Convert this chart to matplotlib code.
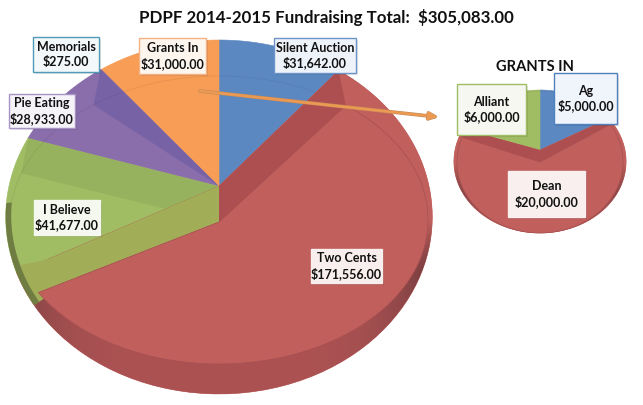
import numpy as np
import matplotlib
matplotlib.use("Agg")
import matplotlib.pyplot as plt
import matplotlib.patheffects as pe
from matplotlib.patches import Polygon, Rectangle

# ---- data ----
main_labels = ["Silent Auction", "Two Cents", "I Believe", "Pie Eating", "Memorials", "Grants In"]
main_values = [31642, 171556, 41677, 28933, 275, 31000]
sub_labels = ["Ag", "Dean", "Alliant"]
sub_values = [5000, 20000, 6000]
title_text = "PDPF 2014-2015 Fundraising Total:  $305,083.00"
sub_title = "GRANTS IN"

BLUE, RED, GREEN, PURPLE, ORANGE = "#5c88c1", "#c05f5b", "#a0bd63", "#8a6dab", "#f79d56"
main_colors = [BLUE, RED, GREEN, PURPLE, PURPLE, ORANGE]
sub_colors = [BLUE, RED, GREEN]
STRIP = {RED: "#ad4e50", GREEN: "#97b25e", PURPLE: "#7762a5", BLUE: "#5c88c1", ORANGE: "#f79d56"}

plt.rcParams["font.family"] = ["Lato", "DejaVu Sans"]
fig = plt.figure(figsize=(6.43, 4.05), dpi=100, facecolor="white")
ax = fig.add_axes([0, 0, 1, 1])
ax.set_axis_off()


class Pie3D:
    def __init__(self, cx, ay, by, R, back, front, rx2, ry2, cy2):
        self.cx, self.ay, self.by, self.rx2, self.ry2, self.cy2 = cx, ay, by, rx2, ry2, cy2
        self.R = R
        self.p = (front - back) / (front + back)
        self.b = back * (1 + self.p)
        self.A, self.B = (cx, ay), (cx, by)

    def p1(self, th, r=1.0):
        # perspective projection of the upper plane, with a small angular correction
        th = np.asarray(th, float)
        t = np.radians(th + 3.0 * np.sin(np.radians(2 * th)))
        u, v = r * np.sin(t), r * np.cos(t)
        w = 1 + self.p * v
        return np.column_stack([self.cx + self.R * u / w, self.ay - self.b * v / w])

    def p2(self, th):
        t = np.radians(th)
        return np.column_stack([self.cx + self.rx2 * np.sin(t), self.cy2 - self.ry2 * np.cos(t)])

    def wedge1(self, a, b):
        return np.vstack([[self.A], self.p1(np.linspace(a, b, 80))])

    def wedge2(self, a, b):
        return np.vstack([[self.B], self.p2(np.linspace(a, b, 120))])

    def quad(self, th):
        return np.vstack([[self.A], self.p1(np.array([th])), self.p2(np.array([th])), [self.B]])

    def tri(self, th):
        return np.vstack([[self.A], self.p1(np.array([th])), self.p2(np.array([th]))])


def poly(pts, color, z, **kw):
    patch = Polygon(pts, closed=True, facecolor=color, edgecolor=kw.pop("edge", color),
                    linewidth=kw.pop("lw", 0.4), zorder=z, **kw)
    ax.add_patch(patch)
    return patch


def wall_image(pie, patch, z, start, span):
    X, Y = np.meshgrid(np.arange(0, 643), np.arange(0, 405))
    f = np.clip((Y - start) / span, 0, 1)
    e = np.clip(np.abs(X - pie.cx) / (pie.R * 1.02), 0, 1) ** 5
    face_c = np.array(matplotlib.colors.to_rgb(RED))
    wall = np.array(matplotlib.colors.to_rgb("#ac5253"))
    dark = np.array(matplotlib.colors.to_rgb("#6e3a3c"))
    img = face_c[None, None] * (1 - f[..., None]) + wall[None, None] * f[..., None]
    img = img * (1 - e[..., None] * f[..., None]) + dark[None, None] * e[..., None] * f[..., None]
    im = ax.imshow(img, extent=(-0.5, 642.5, 404.5, -0.5), aspect="auto", zorder=z, interpolation="nearest")
    im.set_clip_path(patch)


def draw(pie, values, colors, red_index, z=1, start=220, span=45):
    vals = np.asarray(values, float)
    edges = np.concatenate([[0], np.cumsum(vals)]) / vals.sum() * 360
    patches = []
    for i, c in enumerate(colors):
        patches.append(poly(pie.wedge1(edges[i], edges[i + 1]), c, z))
    wall_image(pie, patches[red_index], z + 0.2, start, span)
    a, b = edges[red_index], edges[red_index + 1]
    rim = pie.p2(np.linspace(b, 360 + a, 200))
    for i, c in enumerate(colors):
        if i == red_index or edges[i + 1] >= 359:
            continue
        if c == GREEN:
            s = poly(pie.quad(edges[i + 1]), STRIP[c], z + 0.4, lw=0)
            s.set_clip_path(patches[i])
        elif c == PURPLE:
            s = poly(pie.tri(edges[i + 1]), STRIP[c], z + 0.4, lw=0)
            s.set_clip_path(patches[i])
    ax.plot(rim[:, 0], rim[:, 1], color="#000000", alpha=0.06, lw=0.7, zorder=z + 0.5)
    poly(pie.quad(a), STRIP[RED], z + 0.6, lw=0)
    poly(pie.quad(b), STRIP[RED], z + 0.6, lw=0)
    return edges


def face(pie, a, b, z):
    poly(pie.wedge2(a, b), RED, z, edge="#a85052", lw=0.5)


# ---- main pie ----
big = Pie3D(219, 186, 222, 210, 146, 208, 209, 144, 220)
e = draw(big, main_values, main_colors, 1, start=222, span=50)
a_g = e[2]
poly(big.quad(a_g), "#a2ad58", 2.0, lw=0)
th_w = np.linspace(a_g - 11, a_g + 2, 20)
poly(np.vstack([[big.A], big.p1(th_w), [big.B]]), "#a2ad58", 1.9, lw=0)
th_d = np.linspace(a_g - 11, a_g + 24, 40)
poly(np.vstack([big.p1(th_d), big.p1(th_d[::-1], r=0.975)]), "#6f7c42", 2.1, lw=0)
face(big, e[1], e[2], 2.5)

# ---- small pie ----
small = Pie3D(540, 150, 162, 85, 60, 83, 83, 71, 162)
e2 = draw(small, sub_values, sub_colors, 3, start=165, span=30) if False else draw(small, sub_values, sub_colors, 1, z=3, start=165, span=30)
face(small, e2[1], e2[2], 3.9)

# ---- arrow ----
ax.annotate("", xy=(438, 117), xytext=(200, 91), zorder=6,
            arrowprops=dict(arrowstyle="-|>,head_width=0.22,head_length=0.5", color="#ea9a52",
                            lw=1.8, shrinkA=0, shrinkB=0,
                            path_effects=[pe.withStroke(linewidth=2.6, foreground="#c98a58")]))

# ---- titles ----
ax.text(326, 18, title_text, ha="center", va="center", fontsize=12.2, fontweight="bold",
        color="#101010", zorder=7)
ax.text(535, 67, sub_title, ha="center", va="center", fontsize=10.6, fontweight="bold",
        color="#101010", zorder=5)


# ---- labels ----
def label(name, value, box, fc, ec=None):
    x0, y0, x1, y1 = box
    ax.add_patch(Rectangle((x0 + 1.5, y0 + 1.5), x1 - x0, y1 - y0, fc="#000000", alpha=0.10, lw=0, zorder=7))
    ax.add_patch(Rectangle((x0, y0), x1 - x0, y1 - y0, fc=fc, ec=ec if ec else fc, lw=1.0, zorder=8))
    ax.text((x0 + x1) / 2, (y0 + y1) / 2, f"{name}\n${value:,.2f}", ha="center", va="center",
            fontsize=9.0, fontweight="bold", color="#111111", linespacing=1.22, zorder=9)


main_boxes = [(274, 38, 356, 73), (311, 249, 382, 283), (34, 200, 100, 235),
              (9, 94, 75, 128), (33, 37, 99, 72), (139, 38, 206, 74)]
main_faces = ["#eef3fa", "#f9eeee", "#f5f8ee", "#f5f2f8", "#f3f8fa", "#fdf6ef"]
main_edges = ["#6d94c8", None, None, "#a794c4", "#4f9bb8", "#f4b183"]
for n, v, bx, fc, ec in zip(main_labels, main_values, main_boxes, main_faces, main_edges):
    label(n, v, bx, fc, ec)

sub_boxes = [(554, 73, 617, 124), (508, 171, 585, 217), (457, 84, 526, 135)]
sub_faces = ["#f0f4fb", "#f9efef", "#f5f7f0"]
sub_edges = ["#4f81bd", None, "#a0bd63"]
for n, v, bx, fc, ec in zip(sub_labels, sub_values, sub_boxes, sub_faces, sub_edges):
    label(n, v, bx, fc, ec)

ax.set_xlim(0, 643)
ax.set_ylim(405, 0)
fig.savefig("out.png", dpi=100, facecolor="white")
